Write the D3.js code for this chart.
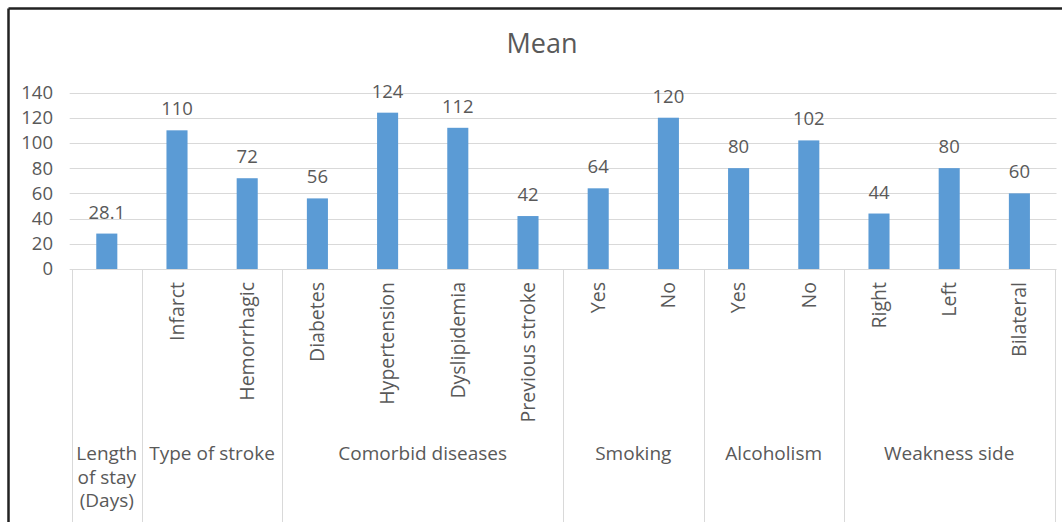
<!DOCTYPE html>
<html>
<head>
<meta charset="utf-8">
<script src="https://cdn.jsdelivr.net/npm/d3@7"></script>
<style>
  body { margin: 0; background: #fff; }
  text { font-family: "Open Sans", sans-serif; fill: #595959; }
</style>
</head>
<body>
<svg id="chart"></svg>
<script>
// data
const groupLines = [["Length", "of stay", "(Days)"], ["Type of stroke"], ["Comorbid diseases"], ["Smoking"], ["Alcoholism"], ["Weakness side"]]
const groupSizes = [1, 2, 4, 2, 2, 3]
const categories = ["", "Infarct", "Hemorrhagic", "Diabetes", "Hypertension", "Dyslipidemia", "Previous stroke", "Yes", "No", "Yes", "No", "Right", "Left", "Bilateral"]
const values = [28.1, 110, 72, 56, 124, 112, 42, 64, 120, 80, 102, 44, 80, 60]
const yTicks = [0, 20, 40, 60, 80, 100, 120, 140]

const W = 1062, H = 522
const margin = { top: 92.5, left: 71.7, right: 7.5, bottom: 253 }

const svg = d3.select('#chart')
    .attr('width', W)
    .attr('height', H)

// frame (top and left edges only are visible)
svg.append('line').attr('x1', 8.5).attr('x2', W).attr('y1', 8.5).attr('y2', 8.5)
    .attr('stroke', '#222').attr('stroke-width', 2.5)
svg.append('line').attr('x1', 8.5).attr('x2', 8.5).attr('y1', 8.5).attr('y2', H)
    .attr('stroke', '#222').attr('stroke-width', 2.5)

const x = d3.scaleBand()
    .domain(d3.range(values.length))
    .range([margin.left, W - margin.right])
    .paddingInner(0.7)
    .paddingOuter(0.35)

const y = d3.scaleLinear()
    .domain([0, 140])
    .range([H - margin.bottom, margin.top])

// gridlines
svg.append('g').selectAll('line')
    .data(yTicks)
    .join('line')
        .attr('x1', margin.left - 2)
        .attr('x2', W - margin.right + 2)
        .attr('y1', d => Math.round(y(d)) + 0.5)
        .attr('y2', d => Math.round(y(d)) + 0.5)
        .attr('stroke', '#d9d9d9')

// y axis labels
const yAxis = d3.axisLeft(y).tickValues(yTicks).tickSize(0).tickPadding(0)
svg.append('g')
    .attr('transform', `translate(53, 0)`)
    .call(yAxis)
    .call(g => g.select('.domain').remove())
    .call(g => g.selectAll('text')
        .style('font-family', '"Open Sans", sans-serif')
        .style('font-size', '18.5px')
        .attr('fill', '#636363'))

// bars
svg.append('g').selectAll('rect')
    .data(values)
    .join('rect')
        .attr('x', (d, i) => x(i))
        .attr('y', d => y(d))
        .attr('width', x.bandwidth())
        .attr('height', d => y(0) - y(d))
        .attr('fill', '#5b9bd5')

// value labels
svg.append('g').selectAll('text')
    .data(values)
    .join('text')
        .attr('x', (d, i) => x(i) + x.bandwidth() / 2)
        .attr('y', d => y(d) - 15)
        .attr('text-anchor', 'middle')
        .style('font-size', '18.5px')
        .text(d => d)

// category separators
const bounds = [0]
groupSizes.forEach(s => bounds.push(bounds[bounds.length - 1] + s))
const step = x.step()
const x0 = margin.left
svg.append('g').selectAll('line')
    .data(bounds)
    .join('line')
        .attr('x1', d => Math.round(x0 + d * step) + 0.5)
        .attr('x2', d => Math.round(x0 + d * step) + 0.5)
        .attr('y1', y(0))
        .attr('y2', H)
        .attr('stroke', '#d9d9d9')

// rotated category labels
svg.append('g').selectAll('text')
    .data(categories)
    .join('text')
        .attr('transform', (d, i) => `translate(${x(i) + x.bandwidth() / 2}, 282) rotate(-90)`)
        .attr('text-anchor', 'end')
        .attr('dy', '0.35em')
        .style('font-size', '19.5px')
        .text(d => d)

// group labels
svg.append('g').selectAll('text')
    .data(groupLines)
    .join('text')
        .attr('x', (d, i) => x0 + (bounds[i] + bounds[i + 1]) / 2 * step)
        .attr('y', 460)
        .attr('text-anchor', 'middle')
        .style('font-size', '19px')
        .selectAll('tspan')
        .data(d => d)
        .join('tspan')
            .attr('x', function () { return d3.select(this.parentNode).attr('x') })
            .attr('dy', (d, i) => i === 0 ? 0 : 23.5)
            .text(d => d)

// title
svg.append('text')
    .attr('x', 542)
    .attr('y', 53)
    .attr('text-anchor', 'middle')
    .style('font-size', '27px')
    .text('Mean')
</script>
</body>
</html>
